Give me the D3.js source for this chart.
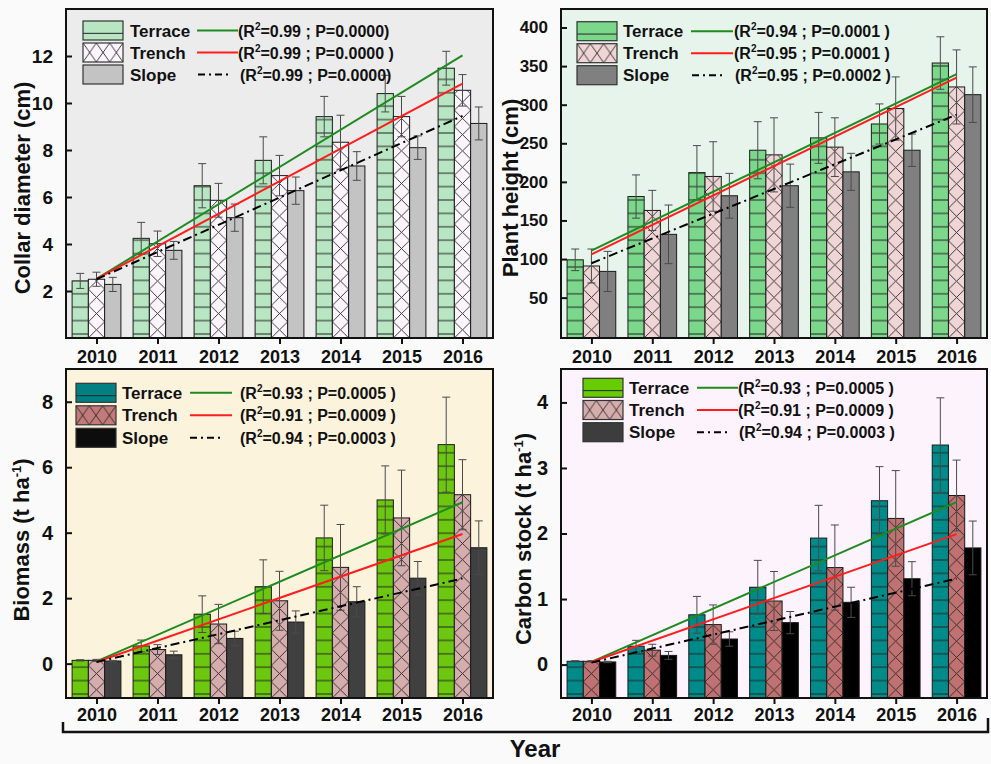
<!DOCTYPE html>
<html>
<head>
<meta charset="utf-8">
<script src="https://cdn.jsdelivr.net/npm/d3@7"></script>
<style>
  html, body { margin: 0; padding: 0; background: #fafafa; }
  svg { display: block; font-family: "Liberation Sans", Arial, sans-serif; font-weight: bold; }
  text { white-space: pre; }
</style>
</head>
<body>
<svg id="chart" width="991" height="764"></svg>
<script>
// ---------- data ----------
const years = [2010, 2011, 2012, 2013, 2014, 2015, 2016];
const seriesNames = ["Terrace", "Trench", "Slope"];

// Collar diameter (cm)
const collarTerrace    = [2.43, 4.24, 6.48, 7.56, 9.42, 10.40, 11.48];
const collarTerraceErr = [0.32, 0.68, 0.94, 1.00, 0.86, 0.78, 0.72];
const collarTrench     = [2.50, 4.01, 5.86, 6.91, 8.33, 9.42, 10.54];
const collarTrenchErr  = [0.30, 0.54, 0.72, 0.86, 1.15, 0.86, 0.67];
const collarSlope      = [2.28, 3.73, 5.12, 6.27, 7.32, 8.10, 9.13];
const collarSlopeErr   = [0.30, 0.38, 0.58, 0.58, 0.61, 0.50, 0.70];
const collarTrend      = [[2.52, 12.03], [2.52, 10.82], [2.50, 9.45]]; // fitted value at 2010 and 2016
const collarR2         = ["0.99", "0.99", "0.99"];
const collarP          = ["0.0000", "0.0000 ", "0.0000"];
const collarTicks      = [2, 4, 6, 8, 10, 12];

// Plant height (cm)
const heightTerrace    = [99, 181, 212, 241, 257, 275, 354];
const heightTerraceErr = [14, 28, 35, 37, 33, 26, 34];
const heightTrench     = [91, 163, 207, 235, 245, 295, 323];
const heightTrenchErr  = [22, 26, 45, 48, 38, 41, 48];
const heightSlope      = [84, 132, 182, 195, 213, 241, 313];
const heightSlopeErr   = [26, 38, 29, 28, 24, 21, 36];
const heightTrend      = [[111, 339.5], [106, 335], [94.6, 287]];
const heightR2         = ["0.94", "0.95", "0.95"];
const heightP          = ["0.0001 ", "0.0001 ", "0.0002 "];
const heightTicks      = [50, 100, 150, 200, 250, 300, 350, 400];

// Biomass (t ha-1)
const biomassTerrace    = [0.10, 0.54, 1.51, 2.35, 3.84, 5.00, 6.69];
const biomassTerraceErr = [0.02, 0.18, 0.56, 0.82, 1.00, 1.04, 1.45];
const biomassTrench     = [0.10, 0.43, 1.21, 1.92, 2.94, 4.45, 5.16];
const biomassTrenchErr  = [0.03, 0.15, 0.60, 0.90, 1.31, 1.46, 1.07];
const biomassSlope      = [0.08, 0.27, 0.77, 1.27, 1.89, 2.61, 3.54];
const biomassSlopeErr   = [0.02, 0.11, 0.22, 0.34, 0.46, 0.51, 0.82];
const biomassTrend      = [[0.07, 4.93], [0.05, 3.96], [0.05, 2.60]];
const biomassR2         = ["0.93", "0.91", "0.94"];
const biomassP          = ["0.0005 ", "0.0009 ", "0.0003 "];
const biomassTicks      = [0, 2, 4, 6, 8];

// Carbon stock (t ha-1)
const carbonTerrace    = [0.05, 0.28, 0.76, 1.18, 1.93, 2.50, 3.35];
const carbonTerraceErr = [0.01, 0.09, 0.28, 0.41, 0.50, 0.52, 0.72];
const carbonTrench     = [0.05, 0.22, 0.61, 0.97, 1.48, 2.23, 2.58];
const carbonTrenchErr  = [0.01, 0.09, 0.30, 0.45, 0.65, 0.73, 0.54];
const carbonSlope      = [0.04, 0.14, 0.39, 0.64, 0.95, 1.31, 1.78];
const carbonSlopeErr   = [0.01, 0.06, 0.11, 0.17, 0.23, 0.26, 0.41];
const carbonTrend      = [[0.04, 2.48], [0.04, 1.99], [0.03, 1.31]];
const carbonR2         = ["0.93", "0.91", "0.94"];
const carbonP          = ["0.0005 ", "0.0009 ", "0.0003 "];
const carbonTicks      = [0, 1, 2, 3, 4];

const xAxisTitle = "Year";

// ---------- layout & style ----------
const panels = [
  {
    id: "collar", frame: { l: 66, t: 9, r: 493, b: 338 }, yDomain: [0, 14], ticks: collarTicks,
    values: [collarTerrace, collarTrench, collarSlope], errors: [collarTerraceErr, collarTrenchErr, collarSlopeErr],
    trend: collarTrend, r2: collarR2, p: collarP,
    bg: "#ececec", barFill: ["#b8e6c2", "#fcf6fc", "#c3c3c3"], legendFill: ["#b8e6c2", "#fcf6fc", "#c3c3c3"],
    title: [{ t: "Collar diameter (cm)" }], titleX: 30, titleY: 188, tickFont: 19, xLabDy: 25,
    legend: { dx: 17, dy: 12, gap: 22, name: 64, line: [131, 172], dash: [132, 162], stats: 172, stats3: 174 }
  },
  {
    id: "height", frame: { l: 561, t: 9, r: 987, b: 338 }, yDomain: [-2.3, 424], ticks: heightTicks,
    values: [heightTerrace, heightTrench, heightSlope], errors: [heightTerraceErr, heightTrenchErr, heightSlopeErr],
    trend: heightTrend, r2: heightR2, p: heightP,
    bg: "#e6f4ec", barFill: ["#7bd78a", "#efd5d5", "#808080"], legendFill: ["#7bd78a", "#efd5d5", "#808080"],
    title: [{ t: "Plant height (cm)" }], titleX: 518, titleY: 188, tickFont: 17, xLabDy: 25,
    legend: { dx: 16, dy: 12.7, gap: 22, name: 62, line: [130, 172], dash: [131, 161], stats: 173, stats3: 174 }
  },
  {
    id: "biomass", frame: { l: 66, t: 369, r: 493, b: 698 }, yDomain: [-1.05, 9.0], ticks: biomassTicks,
    values: [biomassTerrace, biomassTrench, biomassSlope], errors: [biomassTerraceErr, biomassTrenchErr, biomassSlopeErr],
    trend: biomassTrend, r2: biomassR2, p: biomassP,
    bg: "#fcf3dd", barFill: ["#6cc80e", "#d6adad", "#404040"], legendFill: ["#008080", "#c27a7a", "#0d0d0d"],
    title: [{ t: "Biomass (t ha" }, { t: "-1", sup: true }, { t: ")" }], titleX: 29, titleY: 540, tickFont: 20, xLabDy: 22.5,
    legend: { dx: 10, dy: 14.3, gap: 22.5, name: 56, line: [124, 166], dash: [124, 156], stats: 174, stats3: 174 }
  },
  {
    id: "carbon", frame: { l: 561, t: 369, r: 987, b: 698 }, yDomain: [-0.51, 4.51], ticks: carbonTicks,
    values: [carbonTerrace, carbonTrench, carbonSlope], errors: [carbonTerraceErr, carbonTrenchErr, carbonSlopeErr],
    trend: carbonTrend, r2: carbonR2, p: carbonP,
    bg: "#fcf3fc", barFill: ["#008b8b", "#c07272", "#000000"], legendFill: ["#66cc00", "#d6adad", "#3d3d3d"],
    title: [{ t: "Carbon stock (t ha" }, { t: "-1", sup: true }, { t: ")" }], titleX: 531, titleY: 539, tickFont: 20, xLabDy: 22.5,
    legend: { dx: 22, dy: 9.3, gap: 22.2, name: 68, line: [136, 177], dash: [136, 168], stats: 177, stats3: 178 }
  }
];

const trendColors = ["#1f8a1f", "#ff1c1c", "#000000"];
const hatchColor = "#262626";

const svg = d3.select("#chart");
const defs = svg.append("defs");

function hlinePattern(id, y0, step) {
  const p = defs.append("pattern").attr("id", id).attr("patternUnits", "userSpaceOnUse")
    .attr("x", 0).attr("y", y0 - step / 2).attr("width", 10).attr("height", step);
  p.append("line").attr("x1", 0).attr("x2", 10).attr("y1", step / 2).attr("y2", step / 2)
    .attr("stroke", hatchColor).attr("stroke-width", 1);
}
function crossPattern(id, x0, y0, w, h) {
  const p = defs.append("pattern").attr("id", id).attr("patternUnits", "userSpaceOnUse")
    .attr("x", x0).attr("y", y0).attr("width", w).attr("height", h);
  p.append("path").attr("d", `M0,0L${w},${h}M${w},0L0,${h}`)
    .attr("stroke", hatchColor).attr("stroke-width", 0.9).attr("fill", "none");
}

function drawPanel(cfg) {
  const f = cfg.frame;
  const g = svg.append("g");
  const x = d3.scaleLinear().domain([years[0] - 0.5, years[years.length - 1] + 0.5]).range([f.l, f.r]);
  const y = d3.scaleLinear().domain(cfg.yDomain).range([f.b, f.t]);
  const bw = (x(years[1]) - x(years[0])) * 0.8 / 3;

  g.append("rect").attr("x", f.l).attr("y", f.t).attr("width", f.r - f.l).attr("height", f.b - f.t).attr("fill", cfg.bg);

  const clipId = `clip-${cfg.id}`;
  defs.append("clipPath").attr("id", clipId).append("rect")
    .attr("x", f.l).attr("y", f.t).attr("width", f.r - f.l).attr("height", f.b - f.t);
  const plot = g.append("g").attr("clip-path", `url(#${clipId})`);

  const hId = `hl-${cfg.id}`;
  hlinePattern(hId, f.b - 4, 13.4);

  // bars with hatching
  cfg.values.forEach((vals, si) => {
    vals.forEach((v, i) => {
      const bx = x(years[i]) - 1.5 * bw + si * bw;
      const top = y(v), h = f.b - top;
      plot.append("rect").attr("x", bx).attr("y", top).attr("width", bw).attr("height", h)
        .attr("fill", cfg.barFill[si]);
      if (si === 0) {
        plot.append("rect").attr("x", bx).attr("y", top).attr("width", bw).attr("height", h)
          .attr("fill", `url(#${hId})`);
      } else if (si === 1) {
        const cid = `cx-${cfg.id}-${i}`;
        crossPattern(cid, bx, f.b, bw, bw);
        plot.append("rect").attr("x", bx).attr("y", top).attr("width", bw).attr("height", h)
          .attr("fill", `url(#${cid})`);
      }
      plot.append("rect").attr("x", bx).attr("y", top).attr("width", bw).attr("height", h)
        .attr("fill", "none").attr("stroke", "#1a1a1a").attr("stroke-width", 1);
    });
  });

  // error bars
  cfg.values.forEach((vals, si) => {
    vals.forEach((v, i) => {
      const cx = x(years[i]) - bw + si * bw;
      const e = cfg.errors[si][i];
      const y1 = y(v - e), y2 = y(v + e);
      plot.append("path").attr("d", `M${cx},${y1}V${y2}M${cx - 4},${y1}H${cx + 4}M${cx - 4},${y2}H${cx + 4}`)
        .attr("stroke", "#4a4a4a").attr("stroke-width", 1).attr("fill", "none");
    });
  });

  // fitted trend lines
  cfg.trend.forEach((tr, si) => {
    const ln = plot.append("line")
      .attr("x1", x(years[0])).attr("y1", y(tr[0]))
      .attr("x2", x(years[years.length - 1])).attr("y2", y(tr[1]))
      .attr("stroke", trendColors[si]).attr("stroke-width", 2);
    if (si === 2) ln.attr("stroke-dasharray", "9,4,2,4");
  });

  // frame
  g.append("rect").attr("x", f.l).attr("y", f.t).attr("width", f.r - f.l).attr("height", f.b - f.t)
    .attr("fill", "none").attr("stroke", "#111").attr("stroke-width", 2);

  // y axis: inward ticks
  const yAxis = d3.axisLeft(y).tickValues(cfg.ticks).tickFormat(d3.format("~g"))
    .tickSizeInner(-6).tickSizeOuter(0).tickPadding(13);
  const ya = g.append("g").attr("transform", `translate(${f.l},0)`).call(yAxis);
  ya.select(".domain").remove();
  ya.selectAll(".tick line").attr("stroke", "#111").attr("stroke-width", 2);
  ya.selectAll(".tick text").attr("font-size", cfg.tickFont).attr("font-weight", "bold")
    .attr("font-family", "Liberation Sans, Arial, sans-serif").attr("fill", "#111");

  // x axis: outward ticks
  const xAxis = d3.axisBottom(x).tickValues(years).tickFormat(d3.format("d")).tickSizeInner(6).tickSizeOuter(0).tickPadding(4);
  const xa = g.append("g").attr("transform", `translate(0,${f.b})`).call(xAxis);
  xa.select(".domain").remove();
  xa.selectAll(".tick line").attr("stroke", "#111").attr("stroke-width", 2);
  xa.selectAll(".tick text").attr("font-size", 18).attr("font-weight", "bold")
    .attr("font-family", "Liberation Sans, Arial, sans-serif").attr("fill", "#111")
    .attr("dy", null).attr("y", cfg.xLabDy);

  // y title
  const tt = g.append("text").attr("transform", `translate(${cfg.titleX},${cfg.titleY}) rotate(-90)`)
    .attr("text-anchor", "middle").attr("font-size", 22).attr("fill", "#111");
  cfg.title.forEach((s, k) => {
    const ts = tt.append("tspan").text(s.t);
    if (s.sup) ts.attr("font-size", 13).attr("dy", -8);
    else if (k > 0) ts.attr("dy", 8);
  });

  // legend
  const L = cfg.legend;
  seriesNames.forEach((name, si) => {
    const sy = f.t + L.dy + si * L.gap;
    const sx = f.l + L.dx;
    const sw = 40, sh = 19;
    g.append("rect").attr("x", sx).attr("y", sy).attr("width", sw).attr("height", sh).attr("fill", cfg.legendFill[si]);
    if (si === 0) {
      g.append("line").attr("x1", sx).attr("x2", sx + sw).attr("y1", sy + sh * 0.65).attr("y2", sy + sh * 0.65)
        .attr("stroke", hatchColor).attr("stroke-width", 1);
    } else if (si === 1) {
      const cid = `lg-${cfg.id}`;
      crossPattern(cid, sx, sy, sw / 3, sh);
      g.append("rect").attr("x", sx).attr("y", sy).attr("width", sw).attr("height", sh).attr("fill", `url(#${cid})`);
    }
    g.append("rect").attr("x", sx).attr("y", sy).attr("width", sw).attr("height", sh)
      .attr("fill", "none").attr("stroke", "#333").attr("stroke-width", 1.2);

    g.append("text").attr("x", f.l + L.name).attr("y", sy + 15.5).attr("font-size", 17).attr("fill", "#111").text(name);

    const seg = si === 2 ? L.dash : L.line;
    const lsample = g.append("line").attr("x1", f.l + seg[0]).attr("x2", f.l + seg[1])
      .attr("y1", sy + 9.5).attr("y2", sy + 9.5).attr("stroke", trendColors[si]).attr("stroke-width", 2);
    if (si === 2) lsample.attr("stroke-dasharray", "7,4,2,4");

    const st = g.append("text").attr("x", f.l + (si === 2 ? L.stats3 : L.stats)).attr("y", sy + 15.5)
      .attr("font-size", 16).attr("fill", "#111");
    st.append("tspan").text("(R");
    st.append("tspan").attr("font-size", 10).attr("dy", -7).text("2");
    st.append("tspan").attr("dy", 7).text(`=${cfg.r2[si]} ; P=${cfg.p[si]})`);
  });
}

panels.forEach(drawPanel);

// shared x-axis bracket and title
const bracket = d3.path();
bracket.moveTo(63, 722); bracket.lineTo(63, 732); bracket.lineTo(988, 732); bracket.lineTo(988, 718);
svg.append("path").attr("d", bracket.toString()).attr("fill", "none").attr("stroke", "#111").attr("stroke-width", 2.5);
svg.append("text").attr("x", 535).attr("y", 757).attr("text-anchor", "middle").attr("font-size", 24)
  .attr("fill", "#111").text(xAxisTitle);
</script>
</body>
</html>
